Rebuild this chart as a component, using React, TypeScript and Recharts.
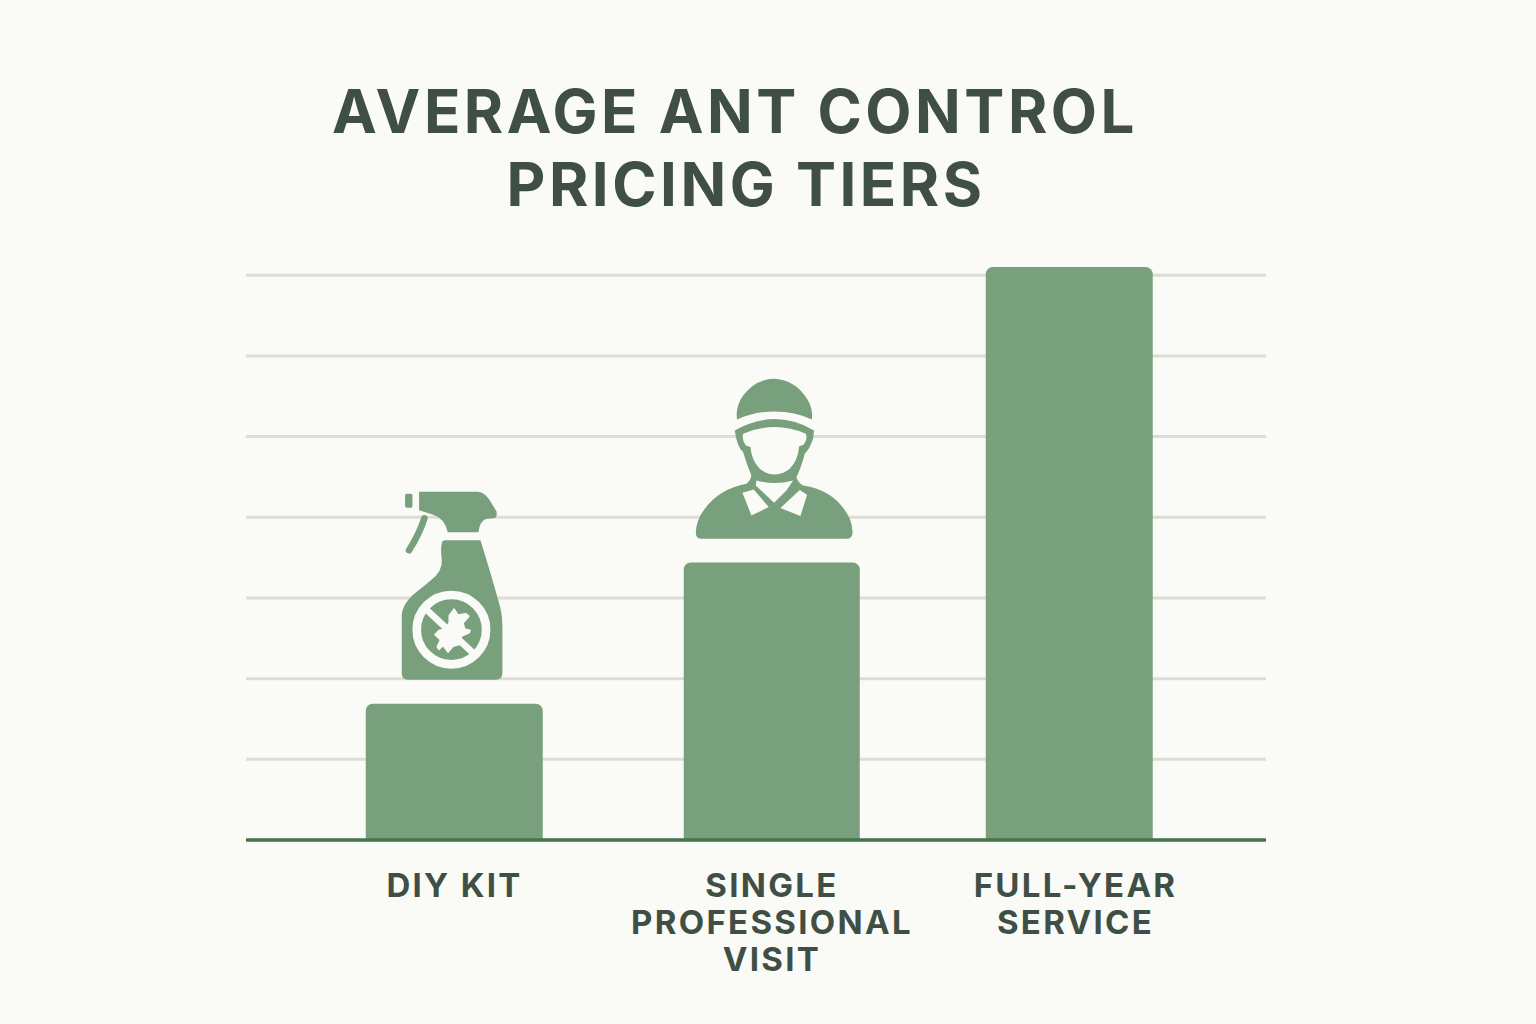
import { BarChart, Bar, XAxis, YAxis, CartesianGrid, ReferenceLine, Rectangle } from "recharts";

const PAPER = "#fafaf6";
const GREEN = "#79a07c";
const INK = "#3f4f45";

// no scale printed on the chart, so costs are in gridline steps
const tierLabels = [["DIY KIT"], ["SINGLE", "PROFESSIONAL", "VISIT"], ["FULL-YEAR", "SERVICE"]];
const tierCosts = [1.69, 3.44, 7.1];
const tierSlots = [208.5, 526, 823.5];
const labelSlots = [208.5, 526, 829.5];
const gridValues = [1, 2, 3, 4, 5, 6, 7];
const barWidths = [177, 176, 167];

const chartData = tierCosts.map((cost, i) => ({ slot: tierSlots[i], cost }));

function SprayBottle({ cx, top }: { cx: number; top: number }) {
    return (
        <g transform={`translate(${cx - 74.5} ${top - 224}) scale(${1 / 3})`}>
            <rect x={76} y={42} width={22} height={42} rx={5} fill={GREEN} />
            <path fill={GREEN} d="M118 36 L295 36 Q315 38 330 62 L350 95 Q354 115 340 116 L318 118 Q300 125 296 158 L204 158 Q195 115 160 105 Q135 97 118 92 Z" />
            <path fill="none" stroke={GREEN} strokeWidth={20} strokeLinecap="round" d="M134 116 Q118 165 88 212" />
            <path fill={GREEN} d="M196 182 L302 182 Q330 270 362 385 Q368 410 368 440 L368 580 Q368 600 348 600 L85 600 Q66 600 66 580 L66 405 Q68 375 100 345 L150 305 Q190 275 186 240 Q182 205 186 192 Q188 182 196 182 Z" />
            <circle cx={215} cy={450} r={104} fill="none" stroke={PAPER} strokeWidth={26} />
            <line x1={140} y1={390} x2={280} y2={520} stroke={PAPER} strokeWidth={20} />
            <path fill={PAPER} stroke={PAPER} strokeWidth={4} strokeLinejoin="round" d="M208 408 L223 388 L235 406 L258 402 L268 410 L250 430 L255 448 L272 452 L268 460 L245 470 L240 495 L220 500 L205 518 L190 498 L178 510 L172 502 L182 480 L165 465 L178 452 L195 448 L208 430 Z" />
        </g>
    );
}

function Worker({ cx, top }: { cx: number; top: number }) {
    return (
        <g transform={`translate(${cx - 92} ${top - 192}) scale(${1 / 3})`}>
            <path fill={GREEN} d="M172 147 Q166 110 190 75 Q230 25 283 25 Q340 28 375 75 Q402 110 396 147 C330 115 240 115 172 147 Z" />
            <path fill={GREEN} d="M165 180 Q285 112 403 180 L400 205 Q390 235 375 250 Q365 290 350 320 Q355 338 370 345 Q470 360 510 445 Q520 470 518 490 Q516 505 500 505 L65 505 Q50 505 48 490 Q48 450 75 415 Q120 355 200 340 Q212 330 215 315 Q200 280 190 245 Q172 230 165 180 Z" />
            <path fill={PAPER} d="M190 190 Q285 150 378 190 Q385 205 372 222 L358 228 Q355 270 330 295 Q310 312 285 312 Q260 312 240 295 Q215 270 212 230 L198 225 Q185 205 190 190 Z" />
            <path fill={PAPER} d="M230 330 Q285 345 340 330 L320 360 L283 397 L228 345 Z" />
            <path fill={PAPER} d="M188 367 L222 357 L267 410 L215 435 Z" />
            <path fill={PAPER} d="M382 373 L360 359 L302 413 L362 437 Z" />
        </g>
    );
}

function TierBar(props: any) {
    const { x, y, width, height, index } = props;
    const w = barWidths[index];
    const cx = x + width / 2;
    return (
        <g>
            <Rectangle x={cx - w / 2} y={y} width={w} height={height} radius={[7, 7, 0, 0]} fill={GREEN} />
            {index === 0 && <SprayBottle cx={cx} top={y} />}
            {index === 1 && <Worker cx={cx} top={y} />}
        </g>
    );
}

function TierTick(props: any) {
    const { x, y, index } = props;
    return (
        <text x={x} y={y} textAnchor="middle" fontFamily="Inter" fontWeight={650} fontSize={33} letterSpacing={2.3} fill={INK}>
            {tierLabels[index].map((line, i) => (
                <tspan key={line} x={x} y={y + 49 + i * 37}>{line}</tspan>
            ))}
        </text>
    );
}

function TitleLine({ text, center, baseline }: { text: string; center: number; baseline: number }) {
    return (
        <div style={{ position: "absolute", left: center - 600, top: baseline - 58, width: 1200, height: 73, lineHeight: "73px", textAlign: "center", fontFamily: "Inter", fontWeight: 650, fontSize: 60, letterSpacing: 3.5, color: INK, whiteSpace: "nowrap" }}>
            {text}
        </div>
    );
}

export default function App() {
    return (
        <div style={{ position: "absolute", left: 0, top: 0, width: 1536, height: 1024, background: PAPER, overflow: "hidden" }}>
            <TitleLine text="AVERAGE ANT CONTROL" center={735} baseline={133} />
            <TitleLine text="PRICING TIERS" center={746} baseline={206} />
            <BarChart width={1536} height={1024} data={chartData} margin={{ top: 194.5, right: 270, bottom: 0, left: 246 }}>
                <CartesianGrid vertical={false} horizontalValues={gridValues} stroke="#dddcd6" strokeWidth={3} />
                <XAxis type="number" dataKey="slot" domain={[0, 1020]} ticks={labelSlots} interval={0} height={184} axisLine={false} tickLine={false} tick={<TierTick />} />
                <YAxis hide domain={[0, 8]} />
                <Bar dataKey="cost" barSize={177} shape={<TierBar />} isAnimationActive={false} />
                <ReferenceLine y={0} stroke="#44734d" strokeWidth={3.5} />
            </BarChart>
        </div>
    );
}
